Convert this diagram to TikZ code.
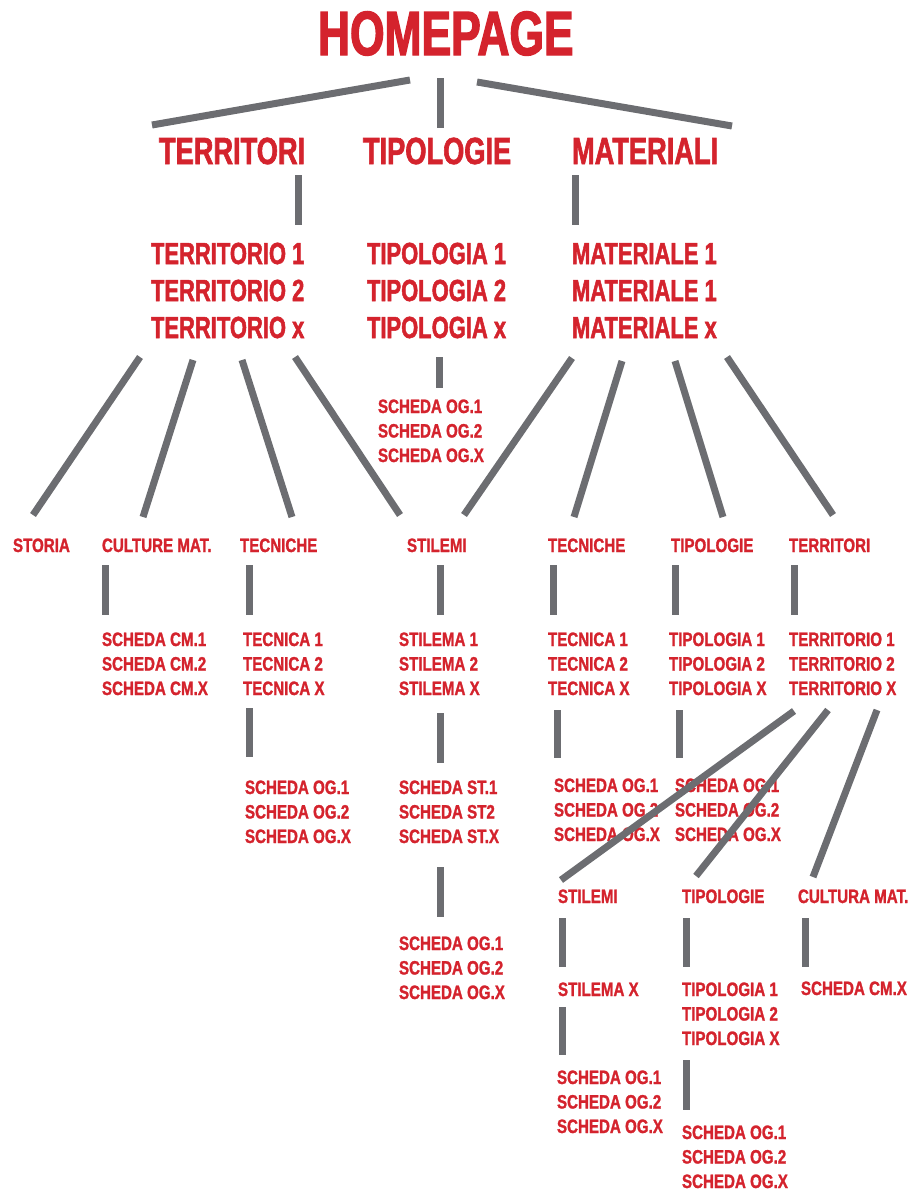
\documentclass[tikz,border=0pt]{standalone}
\usepackage{fontspec}
\usetikzlibrary{calc}
\newfontfamily\fbig[FakeStretch=0.71,FakeBold=2]{Liberation Sans Bold}
\newfontfamily\fmid[FakeStretch=0.72,FakeBold=1.6]{Liberation Sans Bold}
\newfontfamily\fsmall[FakeStretch=0.78,FakeBold=1.3]{Liberation Sans Bold}
\definecolor{lblred}{RGB}{212,35,45}
\definecolor{lngray}{RGB}{108,109,113}
\tikzset{
  lbl/.style={anchor=base west,inner sep=0pt,outer sep=0pt,text=lblred},
  homelbl/.style={lbl,font=\fbig\fontsize{62.5}{62.5}\selectfont},
  toplbl/.style={lbl,font=\fmid\fontsize{37.8}{37.8}\selectfont},
  midlbl/.style={lbl,font=\fmid\fontsize{30.5}{37}\selectfont},
  smalllbl/.style={lbl,font=\fsmall\fontsize{19.4}{24.5}\selectfont},
  conn/.style={draw=lngray,line width=7pt,line cap=butt}
}
\newcommand{\blk}[1]{\begin{tabular}[t]{@{}l@{}}#1\end{tabular}}
\begin{document}
\begin{tikzpicture}[x=1pt,y=-1pt]
\useasboundingbox (0,0) rectangle (916,1192);
% level 0 / 1
\node[homelbl] (home) at (318,55) {HOMEPAGE};
\node[toplbl] (terr) at (159,164) {TERRITORI};
\node[toplbl] (tipo) at (363,164) {TIPOLOGIE};
\node[toplbl] (mat) at (572,164) {MATERIALI};
% level 2
\node[midlbl] (terrl) at (151,264) {\blk{TERRITORIO 1\\TERRITORIO 2\\TERRITORIO x}};
\node[midlbl] (tipl) at (367,264) {\blk{TIPOLOGIA 1\\TIPOLOGIA 2\\TIPOLOGIA x}};
\node[midlbl] (matl) at (572,264) {\blk{MATERIALE 1\\MATERIALE 1\\MATERIALE x}};
\node[smalllbl] (schT) at (378,413) {\blk{SCHEDA OG.1\\SCHEDA OG.2\\SCHEDA OG.X}};
% level 3
\node[smalllbl] (storia) at (13,552) {STORIA};
\node[smalllbl] (cultm) at (102,552) {CULTURE MAT.};
\node[smalllbl] (tecA) at (240,552) {TECNICHE};
\node[smalllbl] (stilA) at (407,552) {STILEMI};
\node[smalllbl] (tecB) at (548,552) {TECNICHE};
\node[smalllbl] (tipB) at (671,552) {TIPOLOGIE};
\node[smalllbl] (terB) at (789,552) {TERRITORI};
% level 4
\node[smalllbl] (cm) at (102,646) {\blk{SCHEDA CM.1\\SCHEDA CM.2\\SCHEDA CM.X}};
\node[smalllbl] (tecbA) at (243,646) {\blk{TECNICA 1\\TECNICA 2\\TECNICA X}};
\node[smalllbl] (stb) at (399,646) {\blk{STILEMA 1\\STILEMA 2\\STILEMA X}};
\node[smalllbl] (tecbB) at (548,646) {\blk{TECNICA 1\\TECNICA 2\\TECNICA X}};
\node[smalllbl] (tipbB) at (669,646) {\blk{TIPOLOGIA 1\\TIPOLOGIA 2\\TIPOLOGIA X}};
\node[smalllbl] (terbB) at (789,646) {\blk{TERRITORIO 1\\TERRITORIO 2\\TERRITORIO X}};
% level 5
\node[smalllbl] (ogA) at (245,794) {\blk{SCHEDA OG.1\\SCHEDA OG.2\\SCHEDA OG.X}};
\node[smalllbl] (st) at (399,794) {\blk{SCHEDA ST.1\\SCHEDA ST2\\SCHEDA ST.X}};
\node[smalllbl] (ogB) at (554,792) {\blk{SCHEDA OG.1\\SCHEDA OG.2\\SCHEDA OG.X}};
\node[smalllbl] (ogC) at (675,792) {\blk{SCHEDA OG.1\\SCHEDA OG.2\\SCHEDA OG.X}};
\node[smalllbl] (ogD) at (399,950) {\blk{SCHEDA OG.1\\SCHEDA OG.2\\SCHEDA OG.X}};
% level 6
\node[smalllbl] (stilC) at (558,903) {STILEMI};
\node[smalllbl] (tipC) at (682,903) {TIPOLOGIE};
\node[smalllbl] (cultC) at (798,903) {CULTURA MAT.};
% level 7
\node[smalllbl] (stx) at (558,996) {STILEMA X};
\node[smalllbl] (tipbC) at (682,996) {\blk{TIPOLOGIA 1\\TIPOLOGIA 2\\TIPOLOGIA X}};
\node[smalllbl] (cmx) at (801,995) {SCHEDA CM.X};
% level 8
\node[smalllbl] (ogE) at (557,1084) {\blk{SCHEDA OG.1\\SCHEDA OG.2\\SCHEDA OG.X}};
\node[smalllbl] (ogF) at (682,1139) {\blk{SCHEDA OG.1\\SCHEDA OG.2\\SCHEDA OG.X}};
% connectors
\draw[conn] ($(home.base west)+(92,25)$) -- ($(terr.base west)+(-7,-39)$);
\draw[conn] ($(home.base west)+(122,23)$) -- ($(tipo.base west)+(77,-36)$);
\draw[conn] ($(home.base west)+(159,27)$) -- ($(mat.base west)+(160,-38)$);
\draw[conn] ($(terr.base west)+(139,11)$) -- ($(terrl.base west)+(147,-39)$);
\draw[conn] ($(mat.base west)+(3,11)$) -- ($(matl.base west)+(3,-39)$);
\draw[conn] ($(terrl.base west)+(-11,93)$) -- ($(storia.base west)+(20,-37)$);
\draw[conn] ($(terrl.base west)+(42,96)$) -- ($(cultm.base west)+(41,-35)$);
\draw[conn] ($(terrl.base west)+(91,96)$) -- ($(tecA.base west)+(52,-35)$);
\draw[conn] ($(terrl.base west)+(144,93)$) -- ($(stilA.base west)+(-7,-37)$);
\draw[conn] ($(tipl.base west)+(72,93)$) -- ($(schT.base west)+(61,-25)$);
\draw[conn] ($(matl.base west)+(0,94)$) -- ($(stilA.base west)+(57,-37)$);
\draw[conn] ($(matl.base west)+(50,97)$) -- ($(tecB.base west)+(26,-35)$);
\draw[conn] ($(matl.base west)+(103,97)$) -- ($(tipB.base west)+(52,-35)$);
\draw[conn] ($(matl.base west)+(155,93)$) -- ($(terB.base west)+(44,-37)$);
% level 3 -> 4
\draw[conn] ($(cultm.base west)+(3.5,13)$) -- ($(cm.base west)+(3.5,-31)$);
\draw[conn] ($(tecA.base west)+(9,13)$) -- ($(tecbA.base west)+(6,-31)$);
\draw[conn] ($(stilA.base west)+(33,13)$) -- ($(stb.base west)+(41,-31)$);
\draw[conn] ($(tecB.base west)+(5,13)$) -- ($(tecbB.base west)+(5,-31)$);
\draw[conn] ($(tipB.base west)+(4,13)$) -- ($(tipbB.base west)+(6,-31)$);
\draw[conn] ($(terB.base west)+(5,13)$) -- ($(terbB.base west)+(5,-31)$);
% level 4 -> 5
\draw[conn] ($(tecbA.base west)+(6,62)$) -- ($(ogA.base west)+(4,-37)$);
\draw[conn] ($(stb.base west)+(41,67)$) -- ($(st.base west)+(41,-31)$);
\draw[conn] ($(tecbB.base west)+(9,64)$) -- ($(ogB.base west)+(3,-34)$);
\draw[conn] ($(tipbB.base west)+(10,64)$) -- ($(ogC.base west)+(4,-34)$);
\draw[conn] ($(st.base west)+(41,73)$) -- ($(ogD.base west)+(41,-33)$);
% territorio x (right) fan
\draw[conn] ($(terbB.base west)+(5,65)$) -- ($(stilC.base west)+(3,-23)$);
\draw[conn] ($(terbB.base west)+(39,64)$) -- ($(tipC.base west)+(14,-27)$);
\draw[conn] ($(terbB.base west)+(88,64)$) -- ($(cultC.base west)+(15,-26)$);
% level 6 -> 7
\draw[conn] ($(stilC.base west)+(4,15)$) -- ($(stx.base west)+(4,-29)$);
\draw[conn] ($(tipC.base west)+(4,15)$) -- ($(tipbC.base west)+(4,-29)$);
\draw[conn] ($(cultC.base west)+(7,15)$) -- ($(cmx.base west)+(4,-28)$);
% level 7 -> 8
\draw[conn] ($(stx.base west)+(4,11)$) -- ($(ogE.base west)+(5,-29)$);
\draw[conn] ($(tipbC.base west)+(4,64)$) -- ($(ogF.base west)+(4,-29)$);
\end{tikzpicture}
\end{document}
